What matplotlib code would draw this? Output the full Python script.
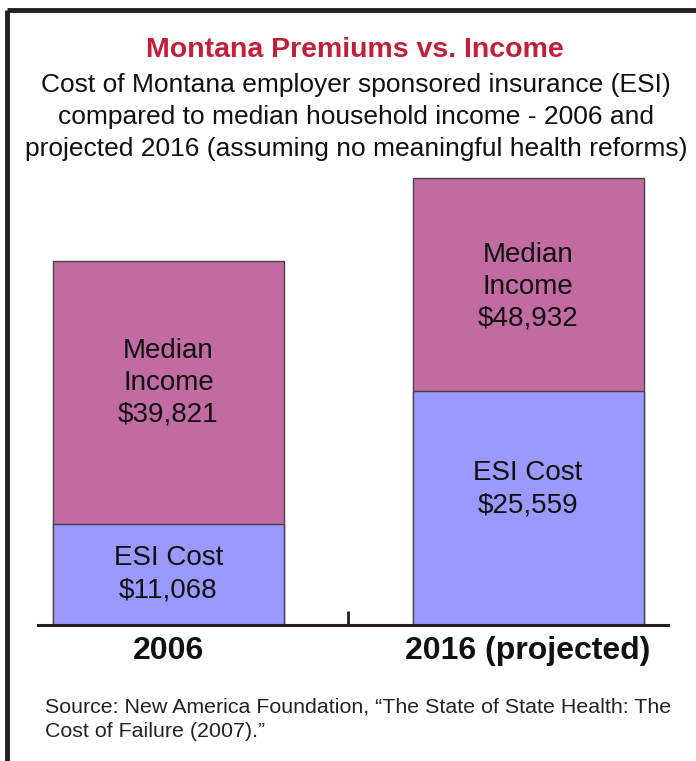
import matplotlib.pyplot as plt
from matplotlib.lines import Line2D

# data
years = ["2006", "2016 (projected)"]
median_income = [39821, 48932]
esi_cost = [11068, 25559]

plt.rcParams['font.family'] = ['Liberation Sans Narrow', 'Liberation Sans', 'DejaVu Sans']

fig = plt.figure(figsize=(6.96, 7.61), dpi=100)
W, H = 696.0, 761.0

# frame round the graphic (top and left edges)
fig.add_artist(Line2D([7 / W, 1.0], [1 - 10 / H, 1 - 10 / H], color='#231f20', lw=3.5, solid_capstyle='butt'))
fig.add_artist(Line2D([7 / W, 7 / W], [0.0, 1 - 10 / H], color='#231f20', lw=3.5, solid_capstyle='butt'))

ax = fig.add_axes([38 / W, 136 / H, 630 / W, 457 / H])
x = [0, 1]
pink = '#c26aa2'
blue = '#9999ff'
ax.bar(x, median_income, width=0.643, color=pink, edgecolor='#444444', linewidth=1)
ax.bar(x, esi_cost, width=0.643, color=blue, edgecolor='#444444', linewidth=1)

ax.set_xlim(-0.363, 1.389)
ax.set_ylim(0, 50000)
for s in ['top', 'right', 'left']:
    ax.spines[s].set_visible(False)
ax.spines['bottom'].set_linewidth(2.2)
ax.spines['bottom'].set_color('#231f20')
ax.set_yticks([])
ax.set_xticks([0.5])
ax.set_xticklabels([])
ax.tick_params(axis='x', direction='in', length=10, width=2, color='#231f20')

# small nudges (points) so the labels sit where they do in the original
med_shift = [7, -1.5]
esi_shift = [0, 13.5]
for i in x:
    ax.annotate("Median\nIncome\n$" + format(median_income[i], ","),
                (i, (esi_cost[i] + median_income[i]) / 2), xytext=(0, med_shift[i]), textcoords='offset points',
                ha='center', va='center', fontsize=20, linespacing=1.3, color='#111111')
    ax.annotate("ESI Cost\n$" + format(esi_cost[i], ","),
                (i, esi_cost[i] / 2), xytext=(0, esi_shift[i]), textcoords='offset points',
                ha='center', va='center', fontsize=20, linespacing=1.3, color='#111111')
    ax.text(i, -1200, years[i], ha='center', va='top', fontsize=23, fontweight='bold', color='#111111')

fig.text(355 / W, 1 - 50 / H, "Montana Premiums vs. Income", ha='center', va='center',
         fontsize=20.5, fontweight='bold', color='#c1203b')
fig.text(356 / W, 1 - 117 / H,
         "Cost of Montana employer sponsored insurance (ESI)\n"
         "compared to median household income - 2006 and\n"
         "projected 2016 (assuming no meaningful health reforms)",
         ha='center', va='center', fontsize=19, linespacing=1.42, color='#111111')

fig.text(45 / W, 1 - 719 / H,
         "Source: New America Foundation, \u201cThe State of State Health: The\nCost of Failure (2007).\u201d",
         ha='left', va='center', fontsize=15.4, linespacing=1.35, color='#222222')

fig.savefig("out.png", dpi=100)
